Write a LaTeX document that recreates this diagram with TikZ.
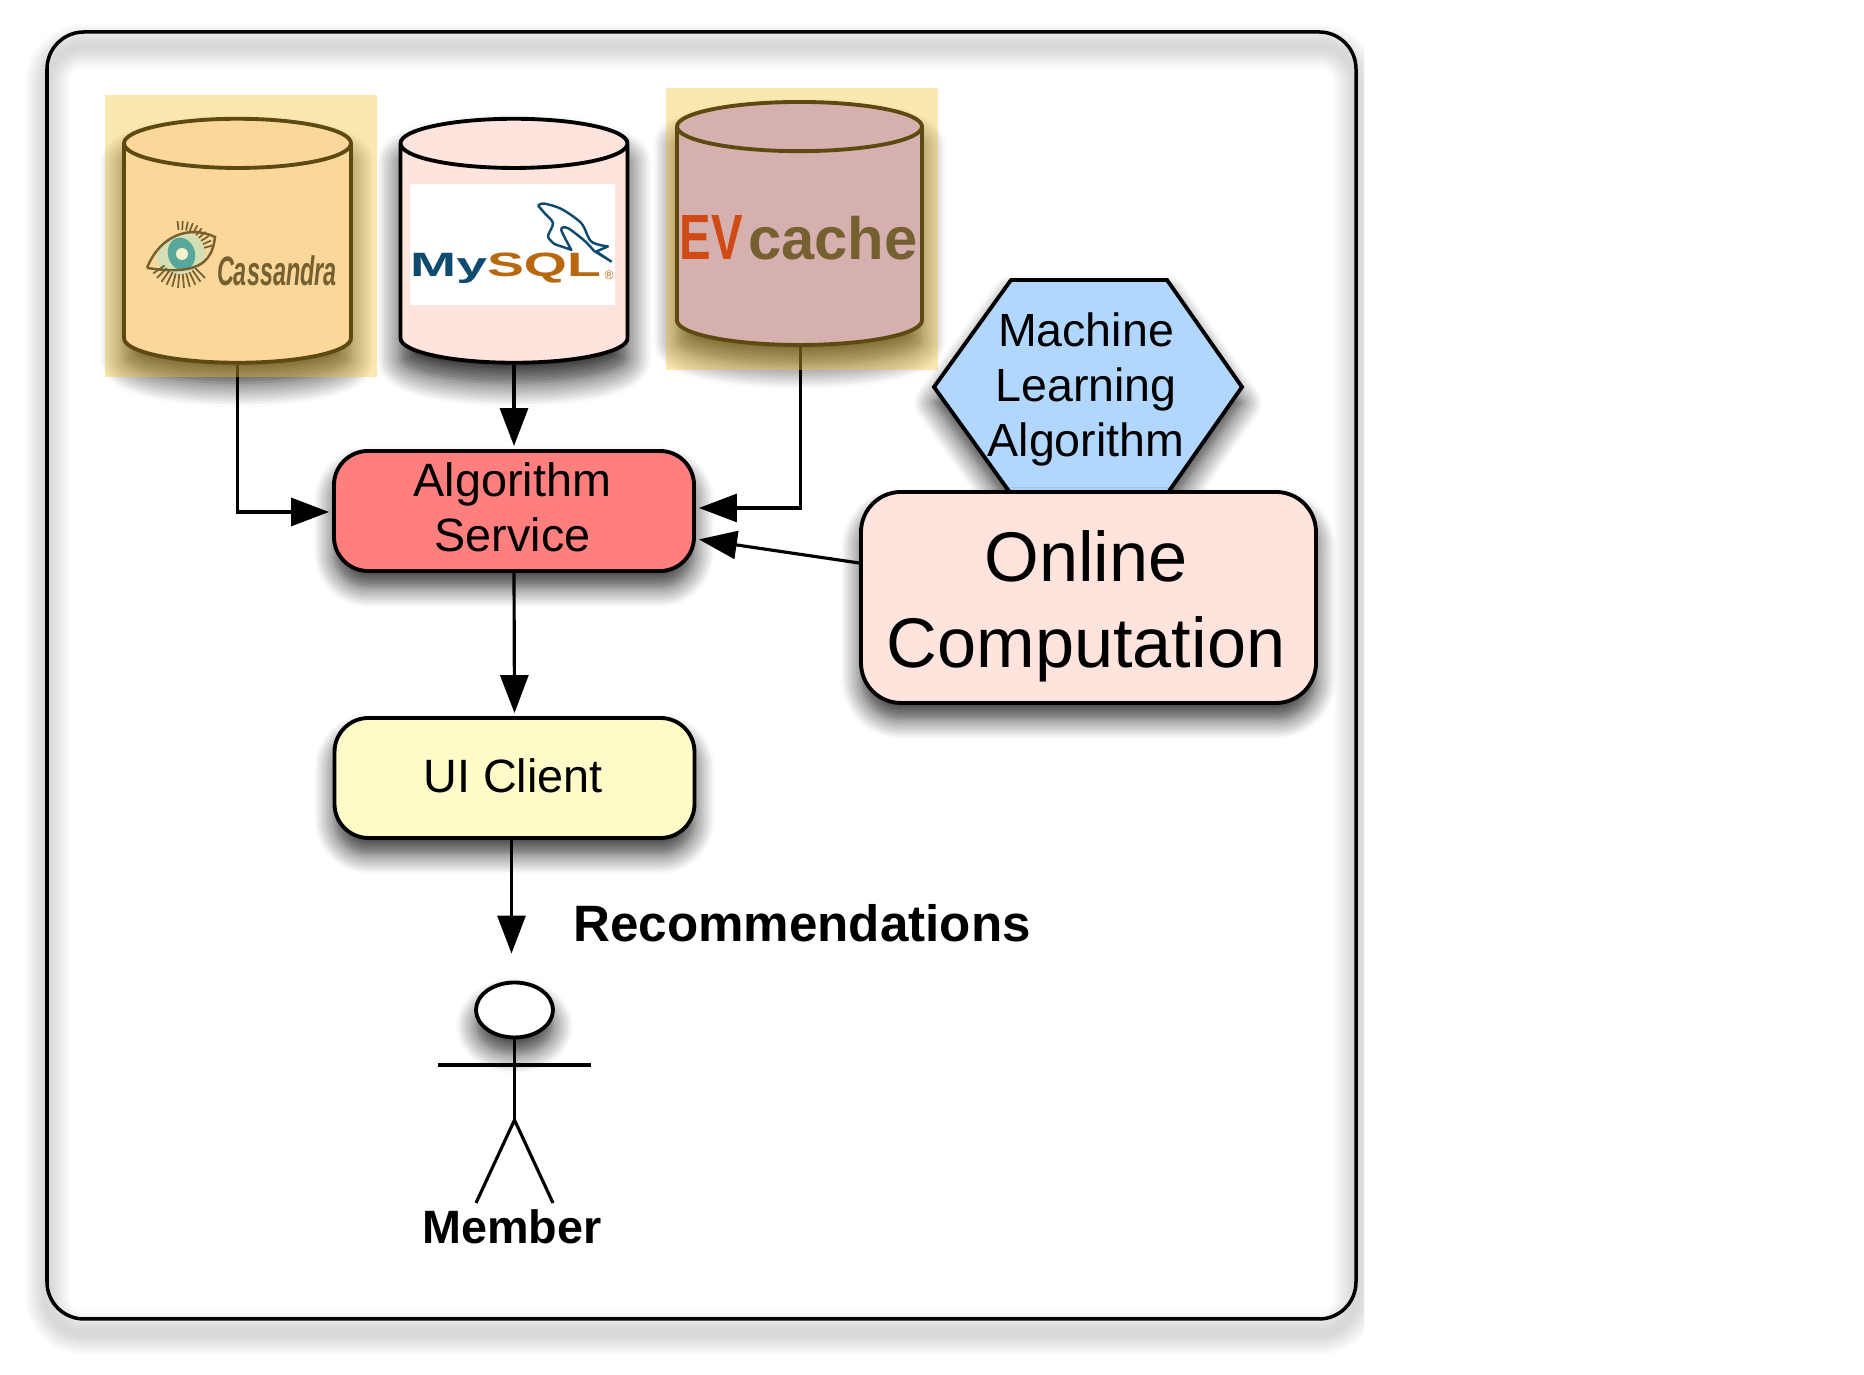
\documentclass[tikz,border=0pt]{standalone}
\usepackage{fontspec}
\usepackage{graphicx}
\usepackage{xcolor}
\setmainfont{Liberation Sans}
\usetikzlibrary{arrows.meta}
\usetikzlibrary{shapes.geometric}
\usetikzlibrary{shadows.blur}
\definecolor{algored}{HTML}{FF7F7F}
\definecolor{clientyellow}{HTML}{FFFBC8}
\definecolor{onlinepink}{HTML}{FFE4DD}
\definecolor{hexblue}{HTML}{B1D7FF}
\definecolor{evlilac}{HTML}{C3A5FD}
\definecolor{tintyellow}{HTML}{F5C32F}
\definecolor{logoolive}{HTML}{756032}
\definecolor{logored}{HTML}{CF4A14}
\definecolor{sqlblue}{HTML}{0F4B6E}
\definecolor{sqlorange}{HTML}{B8690F}
\tikzset{
  softshadow/.style={blur shadow={shadow xshift=0cm,shadow yshift=-.16cm,shadow blur radius=.2cm,shadow blur steps=10,shadow opacity=80}},
  drumshadow/.style={blur shadow={shadow xshift=0cm,shadow yshift=-.2cm,shadow blur radius=.24cm,shadow blur steps=10,shadow opacity=85}},
  framelayer/.style={preaction={draw=black,opacity=.016,line width=#1,transform canvas={yshift=-.14cm}}},
  frameshadow/.style={framelayer=.44cm,framelayer=.4cm,framelayer=.36cm,framelayer=.32cm,framelayer=.28cm,framelayer=.24cm,framelayer=.2cm,framelayer=.16cm,framelayer=.12cm,framelayer=.08cm},
  roundbox/.style={draw,line width=1.1pt,rounded corners=.34cm,minimum width=3.6cm,minimum height=1.2cm,softshadow},
  drum/.style={draw,line width=1.1pt,cylinder,shape border rotate=90,shape aspect=2.1,minimum width=2.27cm,minimum height=2.44cm,drumshadow},
  tint/.style={fill=tintyellow,fill opacity=.38,inner sep=0pt,minimum width=2.72cm,minimum height=2.82cm},
  boxtext/.style={align=center,font=\fontsize{13.3}{15.6}\selectfont},
  label/.style={anchor=base,font=\fontsize{13.3}{15.7}\selectfont\bfseries}
}
\begin{document}
\begin{tikzpicture}[>={Triangle[length=.38cm,width=.28cm,fill=black]},line width=.9pt]
\useasboundingbox (0,0) rectangle (18.64,13.75);
\begin{scope}
\clip (0,0) rectangle (13.64,13.75);
\node[draw,line width=1pt,rounded corners=.37cm,minimum width=13.09cm,minimum height=12.87cm,frameshadow] (FR) at (7.015,6.995) {};
\end{scope}
\node[drum,fill=onlinepink] (CA) at (2.375,11.155) {};
\node[drum,fill=onlinepink] (MS) at (5.14,11.155) {};
\node[drum,fill=evlilac,minimum width=2.45cm,minimum height=2.43cm] (EV) at (7.995,11.33) {};
\node[roundbox,fill=algored] (AS) at (5.14,8.64) {};
\node[boxtext] (AT) at (5.125,8.675) {Algorithm\\Service};
\node[roundbox,fill=clientyellow] (UI) at (5.145,5.97) {};
\node[boxtext] (UT) at (5.13,5.995) {UI Client};
\draw[line width=1.1pt,fill=hexblue,softshadow] (9.34,9.88) -- (10.11,10.95) -- (11.67,10.95) -- (12.42,9.88) -- (11.67,8.81) -- (10.11,8.81) -- cycle;
\node[align=center,font=\fontsize{13.25}{15.7}\selectfont] (ML) at (10.86,9.855) {Machine\\Learning\\Algorithm};
\node[roundbox,fill=onlinepink,minimum width=4.55cm,minimum height=2.11cm,rounded corners=.4cm] (OC) at (10.885,7.775) {};
\node[align=center,font=\fontsize{20}{24.5}\selectfont] (OT) at (10.86,7.69) {Online\\Computation};
\node[draw,line width=1.1pt,ellipse,fill=white,inner sep=0pt,minimum width=.77cm,minimum height=.55cm,softshadow] (HD) at (5.145,3.65) {};
\coordinate (HP) at (5.145,2.55);
\coordinate (LA) at (4.38,3.10);
\coordinate (RA) at (5.91,3.10);
\coordinate (LF) at (4.76,1.72);
\coordinate (RF) at (5.53,1.72);
\draw (HD.south) -- (HP);
\draw (LA) -- (RA);
\draw (LF) -- (HP) -- (RF);
\draw [->,shorten >=.03cm] (CA.south) |- ([yshift=-.01cm]AS.west);
\draw [->,shorten >=.03cm] (MS.south) -- (AS.north);
\draw [->,shorten >=.03cm] ([xshift=.01cm]EV.south) |- ([yshift=.03cm]AS.east);
\draw [->,shorten >=.03cm] ([yshift=.345cm]OC.west) -- ([yshift=-.28cm]AS.east);
\draw [->,shorten >=.03cm] (AS.south) -- (UI.north);
\draw [->,shorten >=.27cm] ([xshift=-.03cm,yshift=.04cm]UI.south) -- ([xshift=-.03cm]HD.north);
% yellow tint over two of the drums
\node[tint] (CT) at (2.41,11.39) {};
\node[tint] (ET) at (8.02,11.46) {};
% logos
\node[fill=white,inner sep=0pt,minimum width=2.05cm,minimum height=1.21cm] (SQ) at (5.125,11.305) {};
\node[anchor=base,inner sep=0pt,font=\fontsize{9.6}{11}\selectfont\bfseries] (SN) at (5.055,10.98) {\scalebox{1.64}[1]{\textcolor{sqlblue}{My}\textcolor{sqlorange}{SQL}}};
\node[right=0pt,inner sep=0pt,font=\fontsize{3.5}{4}\selectfont,text=sqlorange] (SR) at (6.03,11.0) {®};
\begin{scope}[shift={(4.05,11.9)},x=.00333cm,y=-.00333cm]
\draw[sqlblue,line width=.7pt,line join=round] plot[smooth] coordinates {(400,62) (418,56) (470,72) (530,115) (560,170) (610,185)} -- (575,200) -- (620,230) -- (568,198) plot[smooth] coordinates {(568,198) (540,168) (490,130) (470,135) (500,195)} -- (450,178) plot[smooth] coordinates {(450,178) (430,155) (445,115) (420,85) (400,62)};
\end{scope}
\node[anchor=base,inner sep=0pt,text=logoolive,font=\fontsize{11.7}{14}\selectfont\bfseries\itshape] (CN) at (2.77,10.89) {\scalebox{.57}[1]{Cassandra}};
\fill[rotate around={20:(1.81,11.21)},fill={rgb,255:red,213;green,223;blue,181}] (1.81,11.21) ellipse (.25 and .2);
\fill[rotate around={15:(1.815,11.21)},fill={rgb,255:red,87;green,167;blue,154}] (1.815,11.21) ellipse (.135 and .165);
\fill[fill={rgb,255:red,245;green,240;blue,205}] (1.82,11.21) circle (.06);
\draw[logoolive,line width=.7pt] (1.47,11.07) .. controls (1.6,11.4) and (1.9,11.5) .. (2.15,11.38) .. controls (2.12,11.1) and (1.95,11) .. (1.47,11.07);
\foreach \a in {15,24,33,42,51,60,69,78,87,96}
  \draw[logoolive,line width=.5pt] (1.81,11.21) ++(\a:.24) -- ++(\a:.09);
\foreach \a in {215,225,235,245,255,265,275,285,295,305,315}
  \draw[logoolive,line width=.5pt] (1.81,11.21) ++(\a:.2) -- ++(\a:.14);
\node[anchor=base,inner sep=0pt,text=logored,font=\fontsize{18.2}{20}\selectfont\bfseries] (EN) at (7.115,11.15) {\scalebox{.74}[1]{EV}};
\node[anchor=base,inner sep=0pt,text=logoolive,font=\fontsize{17}{20}\selectfont\bfseries] (CH) at (8.33,11.15) {cache};
\node[label,font=\fontsize{14.55}{17}\selectfont\bfseries] (RC) at (8.02,4.33) {Recommendations};
\node[label] (MB) at (5.12,1.31) {Member};
\end{tikzpicture}
\end{document}
